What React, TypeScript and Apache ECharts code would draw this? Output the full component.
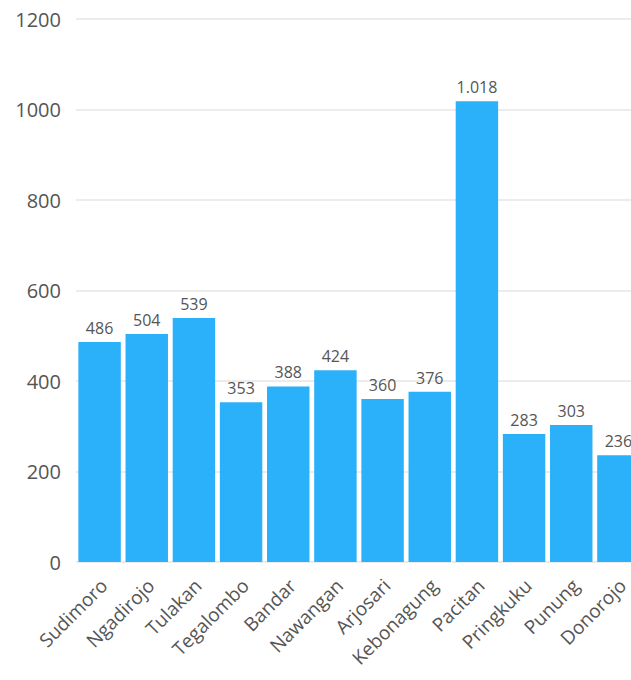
import React, { useEffect, useRef } from "react";
import * as echarts from "echarts";

const categories = ["Sudimoro", "Ngadirojo", "Tulakan", "Tegalombo", "Bandar", "Nawangan", "Arjosari", "Kebonagung", "Pacitan", "Pringkuku", "Punung", "Donorojo"];
const values = [486, 504, 539, 353, 388, 424, 360, 376, 1018, 283, 303, 236];
const yTicks = { min: 0, max: 1200, interval: 200 };

const fmt = (v: number) => String(v).replace(/\B(?=(\d{3})+(?!\d))/g, ".");

export default function App() {
  const ref = useRef<HTMLDivElement>(null);
  useEffect(() => {
    const chart = echarts.init(ref.current!, null, { renderer: "svg" });
    chart.setOption({
      animation: false,
      grid: { left: 76, width: 566, top: 19, bottom: 118, containLabel: false, outerBoundsMode: "none" },
      xAxis: {
        type: "category",
        data: categories,
        axisLine: { show: false },
        axisTick: { show: false },
        axisLabel: { rotate: 45, interval: 0, margin: 16, fontSize: 19, lineHeight: 12, color: "#555", fontFamily: "Open Sans", verticalAlign: "top" },
      },
      yAxis: {
        type: "value",
        min: yTicks.min,
        max: yTicks.max,
        interval: yTicks.interval,
        axisLine: { show: false },
        axisTick: { show: false },
        axisLabel: { margin: 15, fontSize: 20, color: "#555", fontFamily: "Open Sans", formatter: (v: number) => String(v) },
        splitLine: { lineStyle: { color: "#e6e6e6", width: 1.5 } },
      },
      series: [
        {
          type: "bar",
          data: values,
          barCategoryGap: "10%",
          itemStyle: { color: "#2bb0fa" },
          label: {
            show: true,
            position: "top",
            distance: 6,
            fontSize: 16,
            color: "#555",
            fontFamily: "Open Sans",
            formatter: (p: any) => fmt(p.value),
          },
        },
      ],
    });
    return () => chart.dispose();
  }, []);
  return <div ref={ref} style={{ position: "fixed", left: 0, top: 0, width: 631, height: 680, background: "#fff" }} />;
}
